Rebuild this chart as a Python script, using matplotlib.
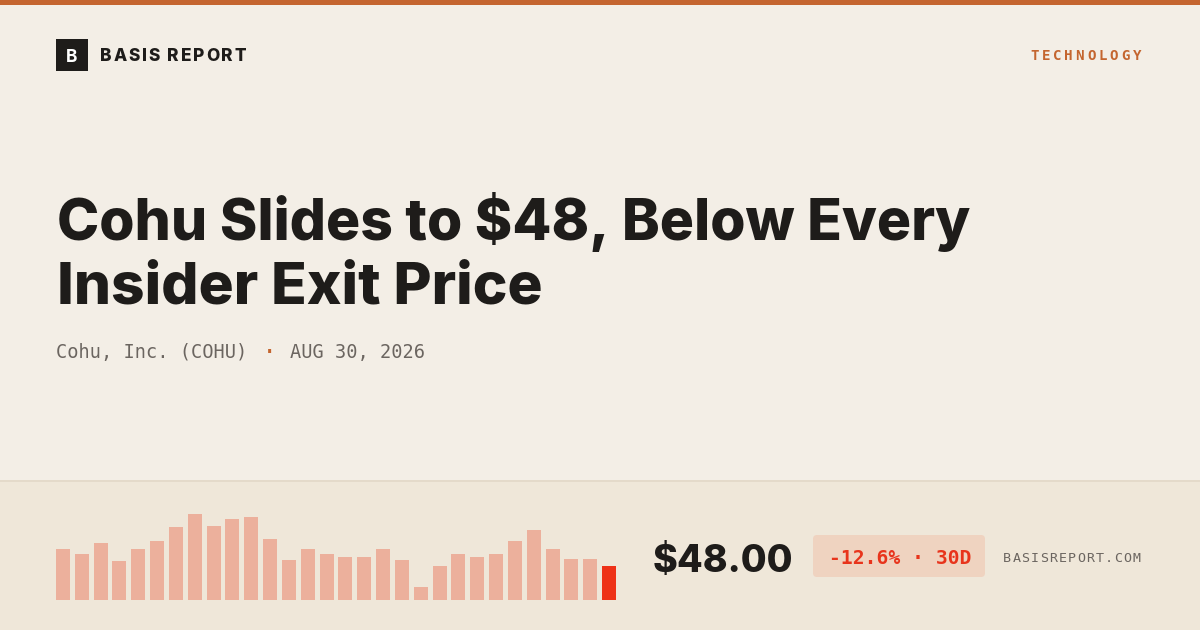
import matplotlib
matplotlib.use("Agg")
import matplotlib.pyplot as plt
from matplotlib.patches import Rectangle, FancyBboxPatch

# ---------------- data ----------------
prices = [54.92, 52.48, 57.36, 49.63, 54.92, 58.17, 63.87, 69.16, 64.28, 67.13,
          67.94, 58.99, 50.44, 54.92, 52.88, 51.26, 51.26, 54.92, 50.44, 39.05,
          48.00, 52.88, 51.66, 52.88, 57.77, 62.65, 54.92, 50.85, 50.85, 48.00]
title_lines = ["Cohu Slides to $48, Below Every", "Insider Exit Price"]
company = "Cohu, Inc. (COHU)"
date_label = "AUG 30, 2026"
brand = "BASIS REPORT"
sector = "TECHNOLOGY"
price_label = "$48.00"
change_label = "-12.6% \u00b7 30D"
site = "BASISREPORT.COM"

# ---------------- styles ----------------
BG = "#F3EEE6"
PANEL = "#EFE7D9"
BORDER = "#E2D8C7"
ORANGE = "#C4652F"
INK = "#1E1C1A"
GRAY = "#6B6560"
BAR = "#ECB09C"
BAR_LAST = "#EE3218"
BADGE = "#EFD3C0"
RED = "#E8341C"
SANS = ["Inter", "DejaVu Sans"]
MONO = ["DejaVu Sans Mono"]

W, H, DPI = 1200, 630, 100
fig = plt.figure(figsize=(W / DPI, H / DPI), dpi=DPI, facecolor=BG)
ax = fig.add_axes([0, 0, 1, 1])
ax.set_xlim(0, W)
ax.set_ylim(H, 0)
ax.axis("off")
ax.set_facecolor(BG)
renderer = fig.canvas.get_renderer()

def fit(t, target_w):
    w = t.get_window_extent(renderer).width
    t.set_fontsize(t.get_fontsize() * target_w / w)

# background pieces
ax.add_patch(Rectangle((0, 0), W, 5, color=ORANGE, lw=0))
ax.add_patch(Rectangle((0, 480), W, 150, color=PANEL, lw=0))
ax.plot([0, W], [480.5, 480.5], color=BORDER, lw=1.2)

# logo
ax.add_patch(Rectangle((56, 39), 32, 32, color=INK, lw=0))
ax.text(72, 61.5, "B", family=SANS, weight="bold", fontsize=12.5, color="white",
        ha="center", va="baseline")

def spaced(text, x0, x1, y, fs, family, color, weight="normal"):
    # letter-spaced text drawn char by char between x0 and x1
    ts = [ax.text(0, y, c, family=family, fontsize=fs, color=color, weight=weight,
                  ha="left", va="baseline") for c in text]
    widths = [t.get_window_extent(renderer).width for t in ts]
    total = sum(widths)
    gap = (x1 - x0 - total) / (len(text) - 1)
    x = x0
    for t, w in zip(ts, widths):
        t.set_x(x)
        x += w + gap

spaced(brand, 100, 246, 61, 12.4, SANS, INK, weight="heavy")
spaced(sector, 1030, 1141, 60, 10.2, MONO, ORANGE, weight="bold")

# title
t1 = ax.text(57, 240, title_lines[0], family=SANS, weight="heavy", fontsize=42,
             color=INK, ha="left", va="baseline")
fit(t1, 913)
t2 = ax.text(57, 303, title_lines[1], family=SANS, weight="heavy", fontsize=42,
             color=INK, ha="left", va="baseline")
fit(t2, 485)

# subtitle
ax.text(56, 358, company, family=MONO, fontsize=13.4, color=GRAY, ha="left", va="baseline")
ax.text(269.5, 358, "\u00b7", family=MONO, fontsize=13.4, color=ORANGE, ha="center",
        va="baseline", weight="bold")
ax.text(290, 358, date_label, family=MONO, fontsize=13.4, color=GRAY, ha="left", va="baseline")

# price
tp = ax.text(653, 572, price_label, family=SANS, weight="heavy", fontsize=31, color=INK,
             ha="left", va="baseline")
fit(tp, 141)

# badge
ax.add_patch(FancyBboxPatch((813, 535), 172, 42, boxstyle="round,pad=0,rounding_size=4",
                            color=BADGE, lw=0))
tb = ax.text(829, 564, change_label, family=MONO, weight="bold", fontsize=14, color=RED,
             ha="left", va="baseline")
fit(tb, 142)

spaced(site, 1003, 1141, 562, 9.6, MONO, GRAY)

# bar chart
scale = 2.457           # px per $
base = 33.96            # price at bar baseline
pitch = 18.83
axb = fig.add_axes([53.58 / W, 30 / H, 30 * pitch / W, 100 / H])
axb.patch.set_alpha(0)
axb.axis("off")
n = len(prices)
colors = [BAR] * (n - 1) + [BAR_LAST]
axb.bar(range(n), prices, width=14 / pitch, color=colors, lw=0)
axb.set_xlim(-0.5, n - 0.5)
axb.set_ylim(base, base + 100 / scale)

fig.savefig("out.png", dpi=DPI, facecolor=BG)
